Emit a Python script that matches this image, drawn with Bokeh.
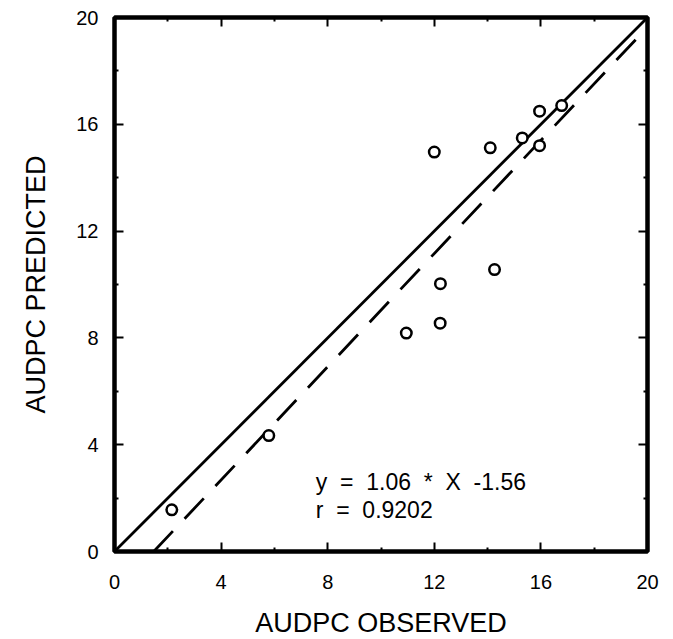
from bokeh.plotting import figure
from bokeh.models import LinearAxis, FixedTicker, Range1d, ColumnDataSource, Label
from bokeh.embed import file_html
from bokeh.resources import INLINE

# ---- data ----
observed = [2.15, 5.79, 10.95, 12.22, 12.23, 14.26, 12.0, 14.1, 15.3, 15.95, 15.95, 16.78]
predicted = [1.56, 4.34, 8.18, 8.55, 10.03, 10.56, 14.96, 15.12, 15.49, 15.2, 16.49, 16.7]
slope = 1.06
intercept = -1.56
r_value = 0.9202
axis_min, axis_max = 0, 20
major_ticks = [0, 4, 8, 12, 16, 20]
minor_ticks = [2, 6, 10, 14, 18]

FONT = "Liberation Sans"
NB = "\u00a0"

p = figure(frame_width=533, frame_height=534,
           min_border_left=114, min_border_top=17, min_border_right=20, min_border_bottom=86,
           x_range=Range1d(axis_min, axis_max), y_range=Range1d(axis_min, axis_max),
           output_backend="svg", toolbar_location=None,
           x_axis_location=None, y_axis_location=None)
p.grid.visible = False
p.outline_line_color = "black"
p.outline_line_width = 4.5
p.background_fill_color = "white"
p.border_fill_color = "white"


def style_ticks(ax):
    ax.axis_line_color = None
    ax.major_tick_in = 9
    ax.major_tick_out = 0
    ax.minor_tick_in = 4
    ax.minor_tick_out = 0
    ax.major_tick_line_width = 2
    ax.minor_tick_line_width = 2
    ax.major_tick_line_color = "black"
    ax.minor_tick_line_color = "black"


def labelled_axis(label, tick_standoff, label_standoff):
    ax = LinearAxis(ticker=FixedTicker(ticks=major_ticks, minor_ticks=minor_ticks))
    style_ticks(ax)
    ax.axis_label = label
    ax.major_label_text_font = FONT
    ax.major_label_text_font_size = "20px"
    ax.major_label_text_color = "black"
    ax.major_label_standoff = tick_standoff
    ax.axis_label_text_font = FONT
    ax.axis_label_text_font_size = "27px"
    ax.axis_label_text_font_style = "normal"
    ax.axis_label_text_color = "black"
    ax.axis_label_standoff = label_standoff
    return ax


def bare_axis(tick_list, length):
    # ticks only (as minor ticks), no major ticks so no labels
    ax = LinearAxis(ticker=FixedTicker(ticks=[], minor_ticks=tick_list))
    style_ticks(ax)
    ax.minor_tick_in = length
    ax.major_label_standoff = 0
    return ax


p.add_layout(labelled_axis("AUDPC OBSERVED", 23, 16), "below")
p.add_layout(labelled_axis("AUDPC PREDICTED", 16, 22), "left")
for side in ("above", "right"):
    p.add_layout(bare_axis(major_ticks, 9), side)
    p.add_layout(bare_axis(minor_ticks, 4), side)

# 1:1 line
p.line([axis_min, axis_max], [axis_min, axis_max], line_color="black", line_width=2.8)

# regression line
x0 = -intercept / slope
reg_x = [x0, axis_max]
reg_y = [slope * v + intercept for v in reg_x]
p.line(reg_x, reg_y, line_color="black", line_width=2.8, line_dash="28 17")

src = ColumnDataSource(dict(x=observed, y=predicted))
p.scatter("x", "y", source=src, marker="circle", size=10.5, fill_color="white",
          line_color="black", line_width=2.5)

eq_text = f"y{NB}{NB}={NB}{NB}{slope:.2f}{NB}{NB}*{NB}{NB}X{NB}{NB}{intercept:.2f}"
r_text = f"r{NB}{NB}={NB}{NB}{r_value:.4f}"
p.add_layout(Label(x=7.55, y=2.6, text=eq_text,
                   text_font=FONT, text_font_size="23px", text_baseline="middle",
                   text_color="black"))
p.add_layout(Label(x=7.55, y=1.55, text=r_text,
                   text_font=FONT, text_font_size="23px", text_baseline="middle",
                   text_color="black"))

open("out.html", "w").write(file_html(p, INLINE))
